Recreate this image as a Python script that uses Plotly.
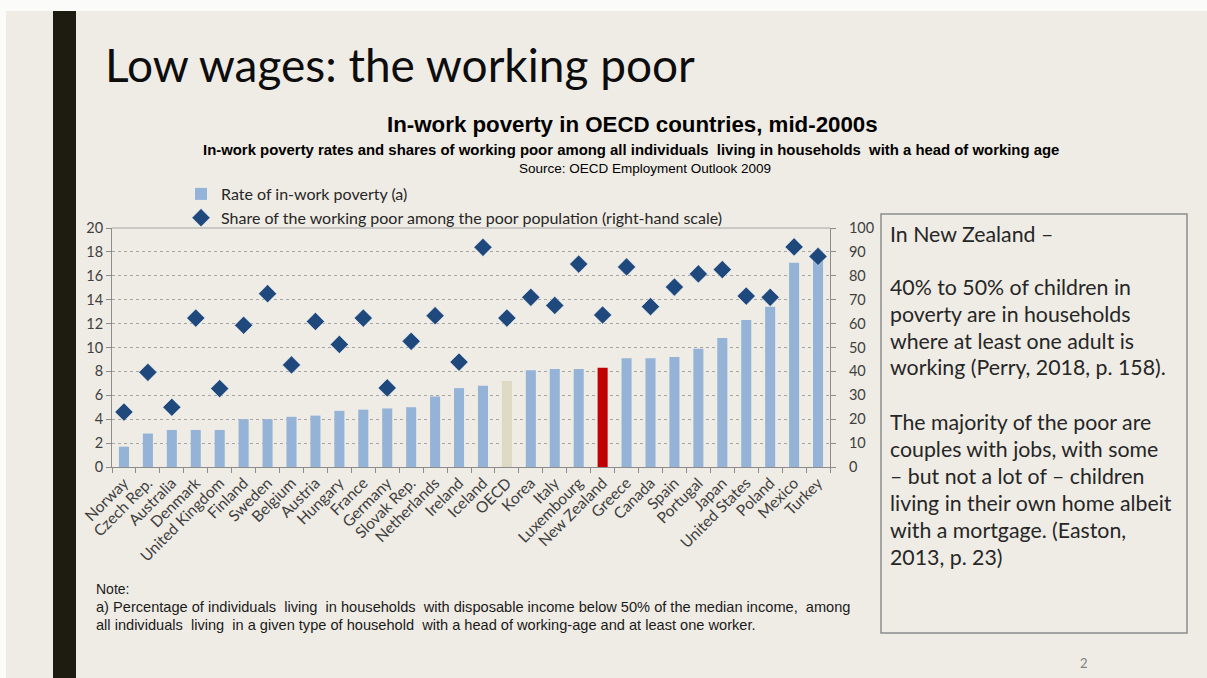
import plotly.graph_objects as go

countries = ["Norway", "Czech Rep.", "Australia", "Denmark", "United Kingdom", "Finland",
             "Sweden", "Belgium", "Austria", "Hungary", "France", "Germany", "Slovak Rep.",
             "Netherlands", "Ireland", "Iceland", "OECD", "Korea", "Italy", "Luxembourg",
             "New Zealand", "Greece", "Canada", "Spain", "Portugal", "Japan", "United States",
             "Poland", "Mexico", "Turkey"]
in_work_poverty_rate = [1.7, 2.8, 3.1, 3.1, 3.1, 4.0, 4.0, 4.2, 4.3, 4.7, 4.8, 4.9, 5.0,
                        5.9, 6.6, 6.8, 7.2, 8.1, 8.2, 8.2, 8.3, 9.1, 9.1, 9.2, 9.9, 10.8,
                        12.3, 13.4, 17.1, 17.4]
share_working_poor = [23.0, 39.6, 25.0, 62.3, 32.8, 59.3, 72.5, 42.7, 60.9, 51.3, 62.3,
                      33.1, 52.6, 63.3, 43.9, 91.9, 62.3, 71.0, 67.6, 84.9, 63.6, 83.7,
                      67.1, 75.3, 80.8, 82.6, 71.5, 71.0, 92.1, 88.1]
left_ticks = list(range(0, 21, 2))
right_ticks = list(range(0, 101, 10))

W, H = 1207, 678
L, R, T, B = 112, 830, 228, 467


def px(x):
    return (x - L) / (R - L)


def py(y):
    return (B - y) / (B - T)


bar_colors = ["#ddd9c3" if c == "OECD" else "#c00000" if c == "New Zealand" else "#95b3d7"
              for c in countries]

fig = go.Figure()
fig.add_trace(go.Bar(
    x=countries, y=in_work_poverty_rate, name="Rate of in-work poverty (a)",
    marker=dict(color=bar_colors, line=dict(width=0)), yaxis="y",
))
fig.add_trace(go.Scatter(
    x=countries, y=share_working_poor, mode="markers",
    name="Share of the working poor among the poor population (right-hand scale)",
    marker=dict(symbol="diamond", size=14, color="#1f497d",
                line=dict(color="rgba(255,255,255,0.5)", width=1)),
    yaxis="y2",
))

axis_font = dict(family="Lato, Liberation Sans, sans-serif", size=14.5, color="#404040")

fig.update_layout(
    width=W, height=H,
    margin=dict(l=L, r=W - R, t=T, b=H - B, pad=0),
    paper_bgcolor="#efece5", plot_bgcolor="#efece5",
    bargap=0.58,
    showlegend=True,
    legend=dict(x=px(181), y=py(177), xanchor="left", yanchor="top",
                bgcolor="rgba(0,0,0,0)", font=dict(family="Lato, sans-serif", size=16, color="#262626"),
                tracegroupgap=0, itemwidth=30),
    xaxis=dict(tickangle=-45, tickfont=dict(family="Lato, sans-serif", size=15.5, color="#404040"),
               showline=True, linecolor="#8c8c8c", ticks="outside", tickson="boundaries",
               ticklen=5, tickcolor="#8c8c8c", showgrid=False, range=[-0.5, 29.5]),
    yaxis=dict(range=[0, 20], tickvals=left_ticks, tickfont=axis_font,
               showline=True, linecolor="#8c8c8c", ticks="outside", ticklen=5,
               tickcolor="#8c8c8c", showgrid=True, gridcolor="#a6a6a6", griddash="dot",
               gridwidth=1, zeroline=False),
    yaxis2=dict(range=[0, 100], tickvals=right_ticks, tickfont=axis_font, overlaying="y",
                side="right", showline=True, linecolor="#8c8c8c", ticks="outside", ticklen=5,
                tickcolor="#8c8c8c", showgrid=False, zeroline=False, ticklabelstandoff=10),
)

shapes = [
    dict(type="rect", xref="paper", yref="paper", x0=px(0), x1=px(W), y0=py(11), y1=py(0),
         fillcolor="#fbfbfa", line=dict(width=0), layer="below"),
    dict(type="rect", xref="paper", yref="paper", x0=px(0), x1=px(6), y0=py(H), y1=py(0),
         fillcolor="#fbfbfa", line=dict(width=0), layer="below"),
    dict(type="rect", xref="paper", yref="paper", x0=px(53), x1=px(76), y0=py(H), y1=py(11),
         fillcolor="#1c1c10", line=dict(width=0)),
    dict(type="line", xref="paper", yref="paper", x0=0, x1=1, y0=1, y1=1,
         line=dict(color="#a6a6a6", width=1)),
    dict(type="rect", xref="paper", yref="paper", x0=px(881), x1=px(1187), y0=py(633), y1=py(214),
         line=dict(color="#8c8c8c", width=1.5), fillcolor="rgba(0,0,0,0)"),
]

ann = []


def text(x, y, s, size, family="Liberation Sans, Arial, sans-serif", color="#000000",
         xanchor="left", bold=False):
    if bold:
        s = "<b>" + s + "</b>"
    ann.append(dict(xref="paper", yref="paper", x=px(x), y=py(y), text=s, showarrow=False,
                    xanchor=xanchor, yanchor="middle",
                    font=dict(family=family, size=size, color=color)))


text(103, 64, "Low wages: the working poor", 46, family="Lato, sans-serif", color="#0d0d0d")
text(632, 124, "In-work poverty in OECD countries, mid-2000s", 22.3, xanchor="center", bold=True)
text(631, 150, "In-work poverty rates and shares of working poor among all individuals  living in households  with a head of working age",
     14.9, xanchor="center", bold=True)
text(645, 168, "Source: OECD Employment Outlook 2009", 13.5, xanchor="center")

note_font = "Liberation Sans, Arial, sans-serif"
text(94, 589, "Note:", 14, family=note_font, color="#1a1a1a")
text(94, 607, "a) Percentage of individuals  living  in households  with disposable income below 50% of the median income,  among",
     14.6, family=note_font, color="#1a1a1a")
text(94, 625, "all individuals  living  in a given type of household  with a head of working-age and at least one worker.",
     14.6, family=note_font, color="#1a1a1a")

box_lines = [
    (234, "In New Zealand –"),
    (287, "40% to 50% of children in"),
    (314, "poverty are in households"),
    (341, "where at least one adult is"),
    (367, "working (Perry, 2018, p. 158)."),
    (422, "The majority of the poor are"),
    (449, "couples with jobs, with some"),
    (476, "– but not a lot of – children"),
    (503, "living in their own home albeit"),
    (530, "with a mortgage. (Easton,"),
    (557, "2013, p. 23)"),
]
for yy, s in box_lines:
    text(888, yy, s, 21.3, family="Lato, sans-serif", color="#262626")

text(1084, 663, "2", 13, family="Lato, sans-serif", color="#7f7f7f", xanchor="center")

fig.update_layout(shapes=shapes, annotations=ann)
fig.write_html("out.html")
